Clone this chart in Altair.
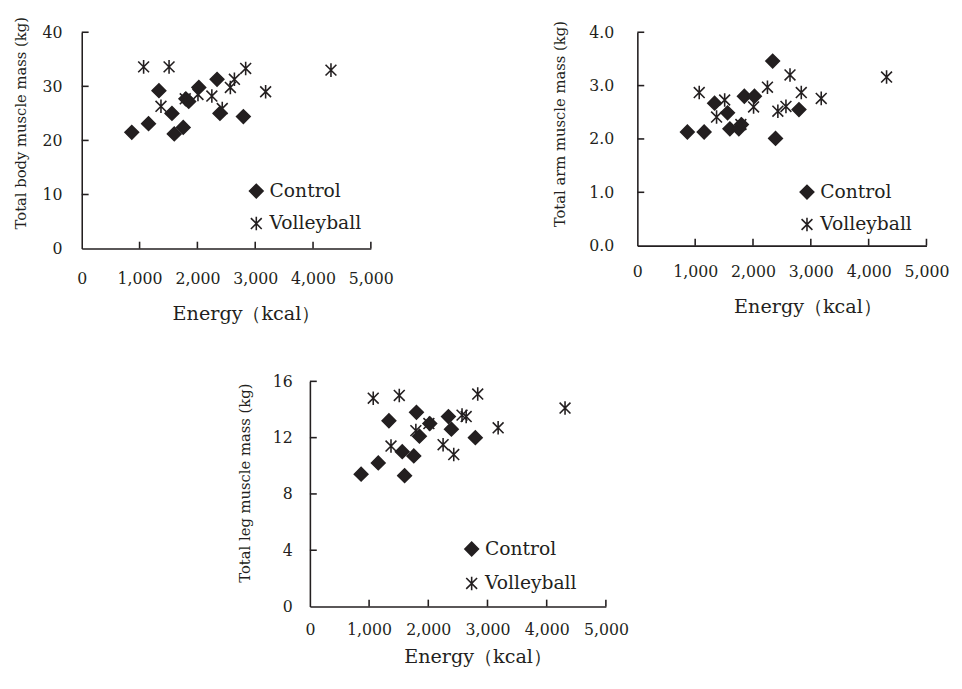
import altair as alt
import pandas as pd

groups = ["Control", "Volleyball"]

ctrl_energy = [865, 1155, 1335, 1560, 1600, 1755, 1800, 1850, 2025, 2340, 2390, 2795]
vb_energy = [1070, 1370, 1510, 1790, 2010, 2250, 2430, 2570, 2640, 2835, 3180, 4310]

body_ctrl = [21.5, 23.1, 29.2, 25.0, 21.2, 22.4, 27.7, 27.2, 29.8, 31.3, 25.0, 24.4]
body_vb = [33.6, 26.3, 33.6, 27.7, 28.5, 28.2, 25.9, 29.8, 31.3, 33.3, 29.0, 33.0]

arm_ctrl = [2.13, 2.13, 2.67, 2.49, 2.19, 2.19, 2.27, 2.80, 2.80, 3.46, 2.01, 2.55]
arm_vb = [2.87, 2.41, 2.73, 2.27, 2.60, 2.97, 2.52, 2.61, 3.20, 2.87, 2.76, 3.16]

leg_ctrl = [9.4, 10.2, 13.2, 11.0, 9.3, 10.7, 13.8, 12.1, 13.0, 13.5, 12.6, 12.0]
leg_vb = [14.8, 11.4, 15.0, 12.5, 13.0, 11.5, 10.8, 13.6, 13.5, 15.1, 12.7, 14.1]

x_ticks = [0, 1000, 2000, 3000, 4000, 5000]
body_ticks = [0, 10, 20, 30, 40]
arm_ticks = [0, 1, 2, 3, 4]
leg_ticks = [0, 4, 8, 12, 16]

FONT = "DejaVu Serif"
INK = "#231f20"
ASTER = "M0,-1L0,1M-0.8,-0.8L0.8,0.8M-0.8,0.8L0.8,-0.8"


def panel(cvals, vvals, ytitle, ticks, yfmt, w, h, ytitle_y, ylab_pad, ytitle_pad,
          xlab_pad, xtitle_dx, xtitle_pad, lx, ly, row_pad):
    df = pd.DataFrame({
        "energy": ctrl_energy + vb_energy,
        "mass": cvals + vvals,
        "group": ["Control"] * len(ctrl_energy) + ["Volleyball"] * len(vb_energy),
    })
    xs = alt.Scale(domain=[x_ticks[0], x_ticks[-1]], nice=False)
    ys = alt.Scale(domain=[ticks[0], ticks[-1]], nice=False)
    x_axis = alt.Axis(
        values=x_ticks, format=",.0f", title="Energy（kcal）", grid=False,
        ticks=False, tickSize=0, domainColor=INK, domainWidth=1.6,
        labelFont=FONT, labelFontSize=16, labelColor=INK, labelPadding=xlab_pad,
        labelFlush=False, labelOverlap=False,
        titleFont=FONT, titleFontSize=19.5, titleFontWeight="normal", titleColor=INK,
        titlePadding=xtitle_pad, titleX=w / 2 + xtitle_dx)
    y_axis = alt.Axis(
        values=ticks, format=yfmt, title=ytitle, grid=False,
        ticks=False, tickSize=0, domainColor=INK, domainWidth=1.6,
        labelFont=FONT, labelFontSize=16, labelColor=INK, labelPadding=ylab_pad,
        labelFlush=False, labelOverlap=False,
        titleFont=FONT, titleFontSize=15, titleFontWeight="normal", titleColor=INK,
        titlePadding=ytitle_pad, titleY=ytitle_y)
    leg = dict(orient="none", legendX=lx, legendY=ly, title=None, padding=0,
               labelFont=FONT, labelFontSize=19, labelColor=INK, labelOffset=4,
               symbolSize=190, symbolStrokeWidth=1.6, rowPadding=row_pad)
    pts = alt.Chart(df).mark_point(size=190, stroke=INK, strokeWidth=1.6, opacity=1).encode(
        x=alt.X("energy:Q", scale=xs, axis=x_axis),
        y=alt.Y("mass:Q", scale=ys, axis=y_axis),
        shape=alt.Shape("group:N", scale=alt.Scale(domain=groups, range=["diamond", ASTER]),
                        legend=alt.Legend(**leg)),
        fill=alt.Fill("group:N", scale=alt.Scale(domain=groups, range=[INK, "transparent"]),
                      legend=alt.Legend(**leg)),
    )
    yt = alt.Chart(pd.DataFrame({"mass": ticks[1:]})).mark_rule(color=INK, strokeWidth=1.6).encode(
        y=alt.Y("mass:Q", scale=ys, axis=y_axis), x=alt.value(0), x2=alt.value(7))
    xt = alt.Chart(pd.DataFrame({"energy": x_ticks[1:]})).mark_rule(color=INK, strokeWidth=1.6).encode(
        x=alt.X("energy:Q", scale=xs, axis=x_axis), y=alt.value(h), y2=alt.value(h - 7))
    return alt.layer(pts, yt, xt).properties(width=w, height=h)


p1 = panel(body_ctrl, body_vb, "Total body muscle mass (kg)", body_ticks, "d",
           294, 220, 92, 20, 14, 23, 20, 18, 168, 152, 12)
p2 = panel(arm_ctrl, arm_vb, "Total arm muscle mass (kg)", arm_ticks, ".1f",
           294, 217, 93, 24, 22, 18, 26, 19, 163, 153, 12)
p3 = panel(leg_ctrl, leg_vb, "Total leg muscle mass (kg)", leg_ticks, "d",
           301, 229, 103, 18, 20, 15, 20, 11, 155, 161, 14)

spacer = alt.Chart(pd.DataFrame({"s": [0]})).mark_point(size=0, opacity=0).encode(
    x=alt.value(0), y=alt.value(0)).properties(width=158, height=10)

top = alt.hconcat(p1, p2, spacing=161).resolve_scale(
    shape="independent", fill="independent").resolve_legend(shape="independent", fill="independent")
bottom = alt.hconcat(spacer, p3, spacing=0).resolve_scale(
    shape="independent", fill="independent").resolve_legend(shape="independent", fill="independent")

chart = alt.vconcat(top, bottom, spacing=51).resolve_scale(
    shape="independent", fill="independent").resolve_legend(
    shape="independent", fill="independent").configure_view(strokeWidth=0).properties(
    padding={"left": 5, "top": 2, "right": 5, "bottom": 5})

chart.save("out.html", embed_options={"renderer": "svg", "actions": False})
